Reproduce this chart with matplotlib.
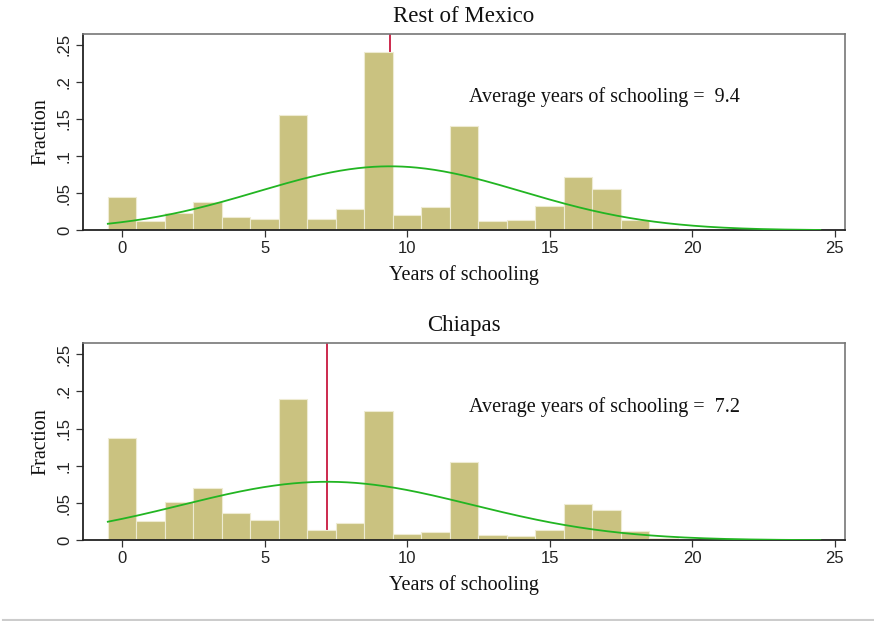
import numpy as np
import matplotlib
matplotlib.use("Agg")
import matplotlib.pyplot as plt
from matplotlib.lines import Line2D

# Years of schooling (bin centres, width 1)
years = list(range(0, 21))

# Fraction of population in each schooling bin
rest_of_mexico = [0.0444, 0.0121, 0.0229, 0.0386, 0.0180, 0.0153, 0.1553, 0.0153,
                  0.0287, 0.2397, 0.0206, 0.0310, 0.1405, 0.0126, 0.0139, 0.0328,
                  0.0723, 0.0561, 0.0144, 0.0036, 0.0008]
chiapas = [0.1378, 0.0260, 0.0512, 0.0705, 0.0364, 0.0278, 0.1899, 0.0135,
           0.0229, 0.1737, 0.0090, 0.0108, 0.1055, 0.0072, 0.0058, 0.0139,
           0.0485, 0.0404, 0.0121, 0.0025, 0.0006]

# Mean and standard deviation of years of schooling
means = [9.4, 7.2]
sds = [4.63, 5.08]
titles = ["Rest of Mexico", "Chiapas"]

y_ticks = [0, 0.05, 0.10, 0.15, 0.20, 0.25]
y_ticklabels = ["0", ".05", ".1", ".15", ".2", ".25"]
x_ticks = [0, 5, 10, 15, 20, 25]

BAR = "#CAC280"
BAR_EDGE = "#EEEBD2"
GREEN = "#22B522"
RED = "#C8183F"
SERIF = ["Liberation Serif", "DejaVu Serif"]
SANS = ["Liberation Sans", "DejaVu Sans"]

fig = plt.figure(figsize=(8.74, 6.21), dpi=100)
fig.patch.set_facecolor("white")

positions = [[0.095, 0.6292, 0.8719, 0.3161],
             [0.095, 0.1300, 0.8719, 0.3172]]

for pos, vals, mu, sd, title in zip(positions, [rest_of_mexico, chiapas], means, sds, titles):
    ax = fig.add_axes(pos)
    ax.set_xlim(-1.37, 25.37)
    ax.set_ylim(0, 0.2645)

    # mean line behind the bars
    ax.axvline(mu, color=RED, lw=1.3, zorder=1)

    ax.bar(years, vals, width=1.0, color=BAR, edgecolor=BAR_EDGE, linewidth=0.8,
           align="center", zorder=2)

    # fitted normal density scaled to bin width 1
    xs = np.linspace(-0.5, 24.5, 400)
    dens = np.exp(-0.5 * ((xs - mu) / sd) ** 2) / (sd * np.sqrt(2 * np.pi))
    ax.plot(xs, dens, color=GREEN, lw=1.3, zorder=3)

    ax.text(12.18, 0.179, f"Average years of schooling =  {mu:.1f}",
            family=SERIF, fontsize=14.5, va="center", ha="left", color="#111111")

    ax.set_title(title, family=SERIF, fontsize=16.5, pad=8.5, color="#111111")
    ax.set_xlabel("Years of schooling", family=SERIF, fontsize=14.5, labelpad=6,
                  color="#111111")
    ax.set_ylabel("Fraction", family=SERIF, fontsize=14.5, labelpad=5, color="#111111")

    ax.set_xticks(x_ticks)
    ax.set_xticklabels([str(t) for t in x_ticks], family=SANS, fontsize=12)
    ax.set_yticks(y_ticks)
    ax.set_yticklabels(y_ticklabels, family=SANS, fontsize=12, rotation=90, va="center")
    ax.tick_params(direction="out", length=5, width=0.9, color="#333333",
                   labelcolor="#222222", pad=3)

    for side in ["left", "bottom"]:
        ax.spines[side].set_color("#222222")
        ax.spines[side].set_linewidth(1.3)
    for side in ["top", "right"]:
        ax.spines[side].set_color("#777777")
        ax.spines[side].set_linewidth(1.2)

# thin grey rule along the bottom of the figure
fig.add_artist(Line2D([0.004, 1.0], [0.0015, 0.0015], transform=fig.transFigure,
                      color="#CCCCCC", lw=1.5))

fig.savefig("out.png", dpi=100, facecolor="white")
